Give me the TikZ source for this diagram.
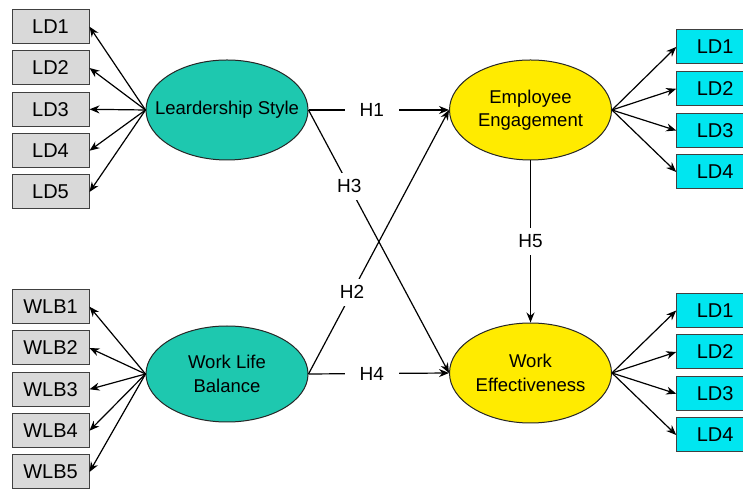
\documentclass[tikz,border=0pt]{standalone}
\usepackage{fontspec}
\setmainfont{Liberation Sans}
\usetikzlibrary{shapes.geometric,arrows.meta}
\definecolor{boxgray}{RGB}{217,217,217}
\definecolor{tealfill}{RGB}{30,200,175}
\definecolor{yelfill}{RGB}{255,235,0}
\definecolor{cyanfill}{RGB}{0,230,240}
\begin{document}
\begin{tikzpicture}[x=1pt,y=1pt,
 ind/.style={draw=black!75,line width=1pt,minimum width=77pt,minimum height=34pt,inner sep=0pt,font=\fontsize{20}{24}\selectfont},
 grayind/.style={ind,fill=boxgray},
 cyanind/.style={ind,fill=cyanfill},
 lat/.style={ellipse,draw=black!85,line width=1pt,minimum width=162pt,minimum height=100pt,inner sep=0pt},
 lattext/.style={align=center,inner sep=0pt,font=\fontsize{18.5}{23.5}\selectfont},
 arr/.style={-{Stealth[length=10pt,width=8pt]},line width=1.2pt},
 lbl/.style={fill=white,inner xsep=15pt,inner ysep=7pt,font=\fontsize{19}{23}\selectfont}
]
\clip (0,0) rectangle (743,489);
\fill[white] (0,0) rectangle (743,489);
% left indicator boxes
\node[grayind] (g1) at (50.5,462.3) {LD1};
\node[grayind] (g2) at (50.5,421) {LD2};
\node[grayind] (g3) at (50.5,379.7) {LD3};
\node[grayind] (g4) at (50.5,338.3) {LD4};
\node[grayind] (g5) at (50.5,297) {LD5};
\node[grayind] (w1) at (50.5,182.3) {WLB1};
\node[grayind] (w2) at (50.5,141) {WLB2};
\node[grayind] (w3) at (50.5,99.7) {WLB3};
\node[grayind] (w4) at (50.5,58.3) {WLB4};
\node[grayind] (w5) at (50.5,17) {WLB5};
% right indicator boxes
\node[cyanind] (e1) at (715.2,442) {LD1};
\node[cyanind] (e2) at (715.2,400.2) {LD2};
\node[cyanind] (e3) at (715.2,358.5) {LD3};
\node[cyanind] (e4) at (715.2,317) {LD4};
\node[cyanind] (f1) at (715.2,178.5) {LD1};
\node[cyanind] (f2) at (715.2,137) {LD2};
\node[cyanind] (f3) at (715.2,95.3) {LD3};
\node[cyanind] (f4) at (715.2,54) {LD4};
% latent variables
\node[lat,fill=tealfill] (ls) at (227,379) {};
\node[lattext] (lst) at (ls.center) {Leardership Style};
\node[lat,fill=tealfill,minimum height=96pt] (wl) at (227,115) {};
\node[lattext] (wlt) at (wl.center) {Work Life\\Balance};
\node[lat,fill=yelfill] (ee) at (530.5,379) {};
\node[lattext] (eet) at (ee.center) {Employee\\Engagement};
\node[lat,fill=yelfill] (we) at (530.5,116) {};
\node[lattext] (wet) at (we.center) {Work\\Effectiveness};
% measurement arrows
\foreach \b in {g1,g2,g3,g4,g5} \draw[arr] (ls.west) -- (\b.east);
\foreach \b in {w1,w2,w3,w4,w5} \draw[arr] (wl.west) -- (\b.east);
\foreach \b in {e1,e2,e3,e4} \draw[arr] (ee.east) -- (\b.west);
\foreach \b in {f1,f2,f3,f4} \draw[arr] (we.east) -- (\b.west);
% structural paths
\draw[arr] (ls.east) -- node[lbl,pos=0.45] (h1) {H1} (ee.west);
\draw[arr] (ls.east) -- node[lbl,pos=0.29] (h3) {H3} (we.west);
\draw[arr] (wl.east) -- node[lbl,pos=0.31] (h2) {H2} (ee.west);
\draw[arr] (wl.east) -- node[lbl,pos=0.45] (h4) {H4} (we.west);
\draw[arr] (ee.south) -- node[lbl,pos=0.5] (h5) {H5} (we.north);
\end{tikzpicture}
\end{document}
